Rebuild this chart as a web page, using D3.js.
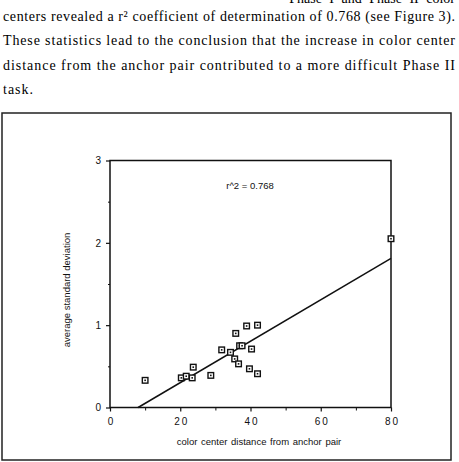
<!DOCTYPE html>
<html>
<head>
<meta charset="utf-8">
<script src="https://cdnjs.cloudflare.com/ajax/libs/d3/7.8.5/d3.min.js"></script>
<style>
  html, body { margin: 0; padding: 0; background: #fff; }
  svg { display: block; }
</style>
</head>
<body>
<svg id="page" width="459" height="462"></svg>
<script>
'use strict';

// text above the figure
var paraLines = [
  'Phase  I  and  Phase  II  color',
  'centers revealed a r\u00B2 coefficient of determination of 0.768 (see Figure 3).',
  'These statistics lead to the conclusion that the increase in color center',
  'distance from the anchor pair contributed to a more difficult Phase II',
  'task.'
];

// scatter values
var distance = [10, 20.3, 21.7, 23.4, 23.7, 28.7, 31.8, 34.3, 35.5, 36.6, 35.8, 36.9, 37.6, 38.9, 40.3, 39.7, 42.0, 42.0, 80];
var avgSd    = [0.33, 0.36, 0.38, 0.36, 0.49, 0.39, 0.70, 0.67, 0.59, 0.53, 0.90, 0.75, 0.75, 0.99, 0.71, 0.47, 1.00, 0.41, 2.05];

// regression line end points
var fitX = [8, 80];
var fitY = [0, 1.81];

var xTicks = [0, 20, 40, 60, 80];
var xMinor = [10, 30, 50, 70];
var yTicks = [0, 1, 2, 3];
var yMinor = [0.5, 1.5, 2.5];

var rLabel = 'r^2  =  0.768';
var xTitle = 'color  center  distance  from  anchor  pair';
var yTitle = 'average  standard  deviation';

var svg = d3.select('#page');

// paragraph
var para = svg.append('g')
  .style('font-family', 'Liberation Serif, Times New Roman, serif')
  .style('font-size', '14px')
  .style('fill', '#000');

para.append('text')
  .attr('x', 455).attr('y', 3)
  .attr('text-anchor', 'end')
  .style('word-spacing', '4px')
  .text(paraLines[0]);

paraLines.slice(1).forEach(function(line, i) {
  var t = para.append('text')
    .attr('x', 3)
    .attr('y', 21 + i * 24.3)
    .text(line);
  if (i < 3) {
    t.attr('textLength', 452).attr('lengthAdjust', 'spacing');
  } else {
    t.style('letter-spacing', '1px');
  }
});

// outer frame
svg.append('rect')
  .attr('x', 2).attr('y', 113)
  .attr('width', 449).attr('height', 347)
  .attr('fill', 'none')
  .attr('stroke', '#222')
  .attr('stroke-width', 1.5);

var x = d3.scaleLinear().domain([0, 80]).range([110, 391]);
var y = d3.scaleLinear().domain([0, 3]).range([407.5, 160.5]);

var font = 'Liberation Sans, Arial, Helvetica, sans-serif';

// plot box
svg.append('rect')
  .attr('x', x(0)).attr('y', y(3))
  .attr('width', x(80) - x(0)).attr('height', y(0) - y(3))
  .attr('fill', 'none')
  .attr('stroke', '#111')
  .attr('stroke-width', 1.5);

// x axis
var xAxis = svg.append('g')
  .attr('transform', 'translate(0,' + y(0) + ')')
  .call(d3.axisBottom(x).tickValues(xTicks).tickSize(4).tickPadding(6).tickFormat(d3.format('d')));
xAxis.select('.domain').remove();
xAxis.selectAll('line').attr('stroke', '#111').attr('stroke-width', 1.2);
xAxis.selectAll('text')
  .style('font-family', font)
  .style('font-size', '10px')
  .style('letter-spacing', '2px')
  .attr('dx', '1px')
  .style('fill', '#111');

svg.append('g')
  .attr('transform', 'translate(0,' + y(0) + ')')
  .call(d3.axisBottom(x).tickValues(xMinor).tickSize(3).tickFormat(''))
  .call(function(g) { g.select('.domain').remove(); })
  .selectAll('line').attr('stroke', '#111');

// y axis
var yAxis = svg.append('g')
  .attr('transform', 'translate(' + x(0) + ',0)')
  .call(d3.axisLeft(y).tickValues(yTicks).tickSize(4).tickPadding(5).tickFormat(d3.format('d')));
yAxis.select('.domain').remove();
yAxis.selectAll('line').attr('stroke', '#111').attr('stroke-width', 1.2);
yAxis.selectAll('text')
  .style('font-family', font)
  .style('font-size', '10px')
  .style('fill', '#111');

svg.append('g')
  .attr('transform', 'translate(' + x(0) + ',0)')
  .call(d3.axisLeft(y).tickValues(yMinor).tickSize(2).tickFormat(''))
  .call(function(g) { g.select('.domain').remove(); })
  .selectAll('line').attr('stroke', '#111');

// titles
svg.append('text')
  .attr('x', 259).attr('y', 445)
  .attr('text-anchor', 'middle')
  .style('font-family', font)
  .style('font-size', '9.5px')
  .style('word-spacing', '1px')
  .style('fill', '#111')
  .text(xTitle);

svg.append('text')
  .attr('transform', 'translate(70,290) rotate(-90)')
  .attr('text-anchor', 'middle')
  .style('font-family', font)
  .style('font-size', '9.5px')
  .style('fill', '#111')
  .text(yTitle);

svg.append('text')
  .attr('x', 250).attr('y', 188.5)
  .attr('text-anchor', 'middle')
  .style('font-family', font)
  .style('font-size', '9.5px')
  .style('fill', '#111')
  .text(rLabel);

// regression line
svg.append('line')
  .attr('x1', x(fitX[0])).attr('y1', y(fitY[0]))
  .attr('x2', x(fitX[1])).attr('y2', y(fitY[1]))
  .attr('stroke', '#111')
  .attr('stroke-width', 1.5);

// markers
var pts = svg.append('g').selectAll('g')
  .data(distance.map(function(d, i) { return [d, avgSd[i]]; }))
  .enter()
  .append('g')
  .attr('transform', function(d) { return 'translate(' + x(d[0]) + ',' + y(d[1]) + ')'; });

pts.append('rect')
  .attr('x', -2.8).attr('y', -2.8)
  .attr('width', 5.6).attr('height', 5.6)
  .attr('fill', '#fff')
  .attr('stroke', '#111')
  .attr('stroke-width', 1.4);

pts.append('rect')
  .attr('x', -0.8).attr('y', -0.8)
  .attr('width', 1.6).attr('height', 1.6)
  .attr('fill', '#111');
</script>
</body>
</html>
